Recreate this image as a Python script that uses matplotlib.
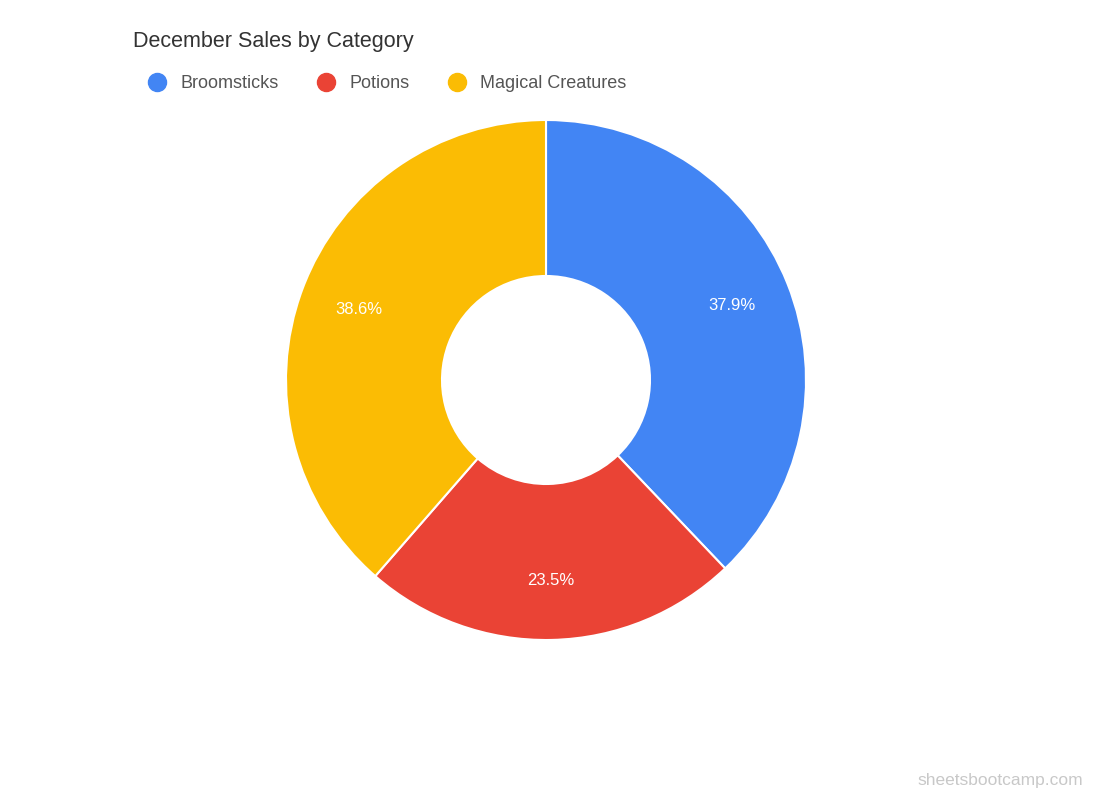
import matplotlib
matplotlib.use("Agg")
import matplotlib.pyplot as plt
from matplotlib.lines import Line2D

categories = ["Broomsticks", "Potions", "Magical Creatures"]
values = [37.9, 23.5, 38.6]
colors = ["#4285F4", "#EA4335", "#FBBC04"]

fig = plt.figure(figsize=(11, 8), dpi=100)
ax = fig.add_axes([(546 - 260) / 1100, (800 - 640) / 800, 520 / 1100, 520 / 800])
wedges, texts, autotexts = ax.pie(
    values, colors=colors, startangle=90, counterclock=False,
    autopct="%.1f%%", pctdistance=0.77,
    wedgeprops=dict(width=0.6, edgecolor="white", linewidth=1.5),
    textprops=dict(color="white", fontsize=12, family="Arial" if False else "Liberation Sans"))
ax.set_xlim(-1, 1); ax.set_ylim(-1, 1); ax.set_aspect("equal")
ax.axis("off")

fig.text(133 / 1100, 1 - 42 / 800, "December Sales by Category", fontsize=15.5,
         color="#333333", family="Liberation Sans", va="center", ha="left")

handles = [Line2D([], [], marker="o", linestyle="", markersize=13, color=c) for c in colors]
fig.legend(handles, categories, loc="center left", bbox_to_anchor=(123 / 1100, 1 - 84 / 800),
           ncol=3, frameon=False, handletextpad=0.3, columnspacing=1.6,
           prop=dict(family="Liberation Sans", size=13), labelcolor="#555555")

fig.text(1083 / 1100, 1 - 780 / 800, "sheetsbootcamp.com", fontsize=12.5, color="#c8c8c8",
         family="Liberation Sans", ha="right", va="center")

fig.savefig("out.png", dpi=100)
